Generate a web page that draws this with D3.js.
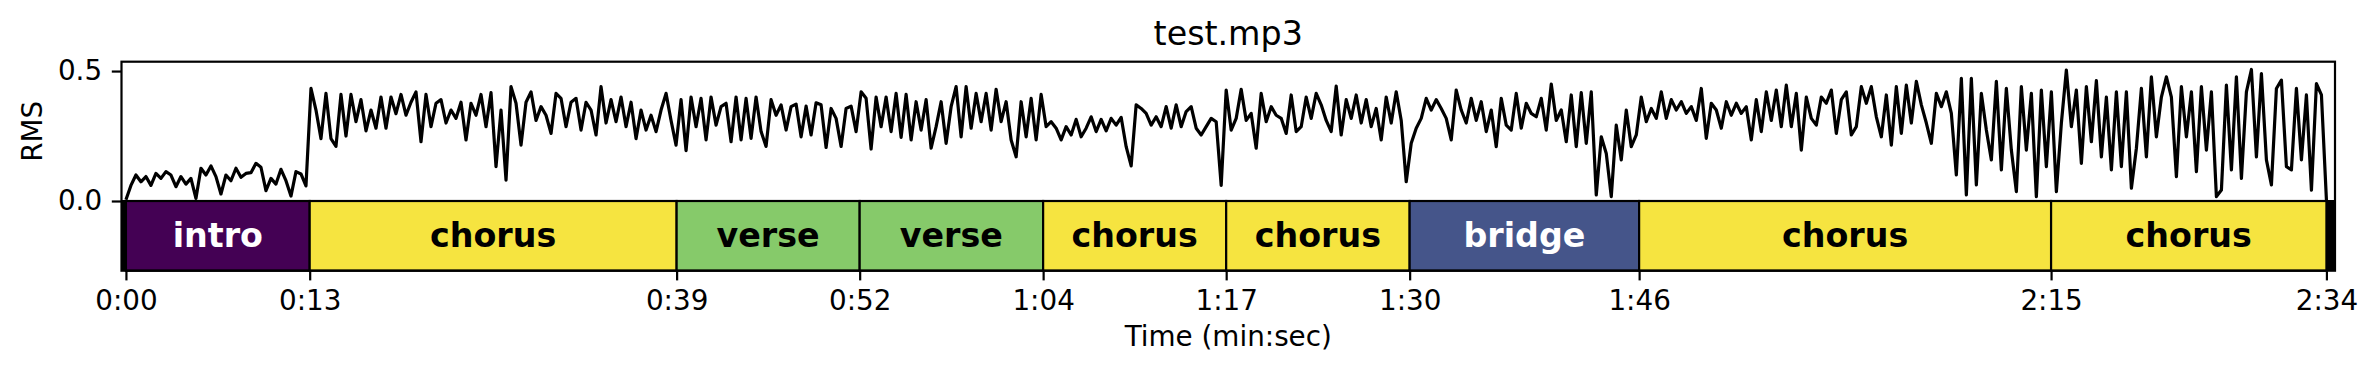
<!DOCTYPE html>
<html>
<head>
<meta charset="UTF-8">
<title>test.mp3</title>
<style>
  body { margin: 0; background: #fff; }
  svg { display: block; font-family: "DejaVu Sans", sans-serif; }
</style>
</head>
<body>
<svg></svg>
<script src="https://d3js.org/d3.v7.min.js"></script>
<script>

// RMS envelope, one value every 0.35 s (0 .. 154 s)
const hop = 0.35;
const rms = [
  0.005,0.06,0.10,0.074,0.094,0.06,0.106,0.087,0.113,0.10,
  0.055,0.094,0.065,0.087,0.01,0.126,0.10,0.135,0.094,0.027,
  0.10,0.078,0.126,0.091,0.106,0.109,0.145,0.13,0.04,0.087,
  0.065,0.122,0.078,0.019,0.113,0.104,0.058,0.433,0.35,0.24,
  0.414,0.24,0.21,0.41,0.25,0.41,0.305,0.39,0.27,
  0.35,0.28,0.40,0.28,0.40,0.336,0.41,0.33,0.38,0.42,
  0.228,0.41,0.286,0.376,0.39,0.30,0.35,0.318,0.38,0.235,
  0.376,0.33,0.41,0.286,0.417,0.132,0.35,0.08,0.44,0.376,
  0.215,0.38,0.42,0.31,0.363,0.33,0.26,0.414,0.395,0.286,
  0.38,0.395,0.273,0.38,0.35,0.254,0.44,0.30,0.39,0.305,
  0.40,0.286,0.38,0.24,0.35,0.273,
  0.33,0.267,0.35,0.414,0.31,0.215,0.39,0.194,0.40,0.286,
  0.395,0.235,0.40,0.292,0.363,0.376,0.228,0.40,0.235,0.395,
  0.241,0.40,0.267,0.21,0.39,0.33,0.37,0.273,0.363,0.373,
  0.247,0.365,0.254,0.378,0.37,0.206,0.356,0.318,0.21,0.356,
  0.365,0.267,0.42,0.395,0.20,0.40,0.286,0.40,0.267,0.414,
  0.245,0.41,0.235,0.382,0.273,0.39,
  0.203,0.286,0.382,0.222,0.363,0.44,0.247,0.44,0.28,0.414,
  0.305,0.414,0.273,0.43,0.305,0.382,0.235,0.17,0.382,0.247,
  0.395,0.235,0.41,0.286,0.305,0.28,0.235,0.286,0.254,0.314,
  0.247,0.28,0.324,0.267,0.314,0.27,0.318,0.292,0.322,0.209,
  0.135,0.37,0.356,0.337,0.292,0.324,0.286,0.363,0.28,0.37,
  0.286,0.344,0.363,0.28,0.254,0.286,
  0.318,0.305,0.06,0.427,0.273,0.318,0.43,0.31,0.337,0.203,
  0.414,0.305,0.363,0.33,0.318,0.26,0.408,0.267,0.286,0.40,
  0.318,0.414,0.37,0.31,0.267,0.442,0.254,0.39,0.318,0.408,
  0.30,0.39,0.286,0.356,0.235,0.40,0.30,0.42,0.31,0.074,
  0.222,0.28,0.318,0.395,0.35,0.39,0.356,0.318,0.235,0.427,
  0.35,0.30,0.395,0.31,0.382,0.267,
  0.35,0.209,0.395,0.292,0.273,0.414,0.28,0.376,0.337,0.324,
  0.395,0.273,0.45,0.31,0.35,0.228,0.408,0.209,0.417,0.222,
  0.42,0.023,0.247,0.183,0.017,0.292,0.158,0.35,0.209,0.254,
  0.40,0.305,0.356,0.318,0.42,0.318,0.39,0.35,0.382,0.337,
  0.363,0.31,0.433,0.241,0.376,0.35,0.28,0.382,0.33,0.376,
  0.337,0.363,0.235,0.39,0.267,0.42,
  0.31,0.427,0.286,0.446,0.286,0.414,0.196,0.40,0.318,0.292,
  0.40,0.376,0.427,0.26,0.39,0.42,0.254,0.286,0.44,0.376,
  0.44,0.324,0.247,0.408,0.215,0.44,0.26,0.446,0.30,0.46,
  0.37,0.30,0.222,0.414,0.363,0.42,0.337,0.10,0.472,0.023,
  0.472,0.062,0.414,0.273,0.158,0.46,0.12,0.433,0.196,0.036,
  0.44,0.196,0.414,0.017,0.427,0.132,
  0.42,0.036,0.30,0.504,0.286,0.427,0.145,0.44,0.228,0.463,
  0.17,0.40,0.12,0.42,0.132,0.42,0.049,0.203,0.433,0.17,
  0.478,0.247,0.40,0.478,0.40,0.094,0.44,0.247,0.42,0.113,
  0.44,0.196,0.42,0.017,0.042,0.446,0.12,0.478,0.087,0.42,
  0.506,0.17,0.49,0.158,0.062,0.433,0.465,0.132,0.12,0.433,
  0.158,0.408,0.042,0.452,0.408,0.004
];

// song segments (seconds)
const segLabels = ["intro","chorus","verse","verse","chorus","chorus","bridge","chorus","chorus"];
const segStarts = [0, 12.86, 38.54, 51.35, 64.19, 77.0, 89.84, 105.9, 134.73];
const segEnds   = [12.86, 38.54, 51.35, 64.19, 77.0, 89.84, 105.9, 134.73, 154.0];
const labelColors = {intro: "#440154", bridge: "#45558a", verse: "#86ca6a", chorus: "#f6e440"};
const labelText   = {intro: "#fff", bridge: "#fff", verse: "#000", chorus: "#000"};

const tickValues = [0, 12.86, 38.54, 51.35, 64.19, 77.0, 89.84, 105.9, 134.73, 154.0];
const tickLabels = ["0:00","0:13","0:39","0:52","1:04","1:17","1:30","1:46","2:15","2:34"];
const yTicks = [0, 0.5];

let width = 2377, height = 375;
let axLeft = 121.5, axRight = 2335, axTop = 61.7, axMid = 201, axBottom = 270.7;

let svg = d3.select("svg").attr("width", width).attr("height", height);
svg.append("rect").attr("width", width).attr("height", height).attr("fill", "#fff");

let x = d3.scaleLinear().domain([-0.31, 154.6]).range([axLeft, axRight]);
let y = d3.scaleLinear().domain([0, 0.536]).range([axMid, axTop]);

// segment band: black behind, coloured segments on top
svg.append("rect")
  .attr("x", axLeft).attr("y", axMid)
  .attr("width", axRight - axLeft).attr("height", axBottom - axMid)
  .attr("fill", "#000");

let segs = segLabels.map((l, i) => ({label: l, start: segStarts[i], end: segEnds[i]}));

svg.append("g").selectAll("rect")
  .data(segs)
  .enter().append("rect")
    .attr("x", d => x(d.start))
    .attr("y", axMid)
    .attr("width", d => x(d.end) - x(d.start))
    .attr("height", axBottom - axMid)
    .attr("fill", d => labelColors[d.label])
    .attr("stroke", "#000")
    .attr("stroke-width", 2.2);

svg.append("g").selectAll("text")
  .data(segs)
  .enter().append("text")
    .attr("x", d => (x(d.start) + x(d.end)) / 2)
    .attr("y", (axMid + axBottom) / 2)
    .attr("text-anchor", "middle")
    .attr("dominant-baseline", "central")
    .style("font-size", "33.3px")
    .style("font-weight", "bold")
    .attr("fill", d => labelText[d.label])
    .text(d => d.label);

// RMS line
let line = d3.line()
  .x((d, i) => x(i * hop))
  .y(d => y(d));

svg.append("path")
  .datum(rms)
  .attr("d", line)
  .attr("fill", "none")
  .attr("stroke", "#000")
  .attr("stroke-width", 3.2)
  .attr("stroke-linejoin", "round");

// axes
let xAxis = d3.axisBottom(x)
  .tickValues(tickValues)
  .tickFormat((d, i) => tickLabels[i])
  .tickSize(9.7).tickPadding(9.7).tickSizeOuter(0);

let gx = svg.append("g").attr("transform", "translate(0," + axBottom + ")").call(xAxis);

let yAxis = d3.axisLeft(y)
  .tickValues(yTicks)
  .tickFormat(d3.format(".1f"))
  .tickSize(9.7).tickPadding(9.7).tickSizeOuter(0);

let gy = svg.append("g").attr("transform", "translate(" + axLeft + ",0)").call(yAxis);

[gx, gy].forEach(g => {
  g.select(".domain").remove();
  g.selectAll("line").attr("stroke", "#000").attr("stroke-width", 2.2);
  g.selectAll("text")
    .attr("fill", "#000")
    .style("font-family", "DejaVu Sans")
    .style("font-size", "27.8px");
});

// frame
svg.append("rect")
  .attr("x", axLeft).attr("y", axTop)
  .attr("width", axRight - axLeft).attr("height", axBottom - axTop)
  .attr("fill", "none").attr("stroke", "#000").attr("stroke-width", 2.2);
svg.append("line")
  .attr("x1", axLeft).attr("x2", axRight).attr("y1", axMid).attr("y2", axMid)
  .attr("stroke", "#000").attr("stroke-width", 2.2);

// labels
svg.append("text")
  .attr("x", (axLeft + axRight) / 2).attr("y", 45)
  .attr("text-anchor", "middle")
  .style("font-size", "33.3px")
  .text("test.mp3");

svg.append("text")
  .attr("x", (axLeft + axRight) / 2).attr("y", 346)
  .attr("text-anchor", "middle")
  .style("font-size", "27.8px")
  .text("Time (min:sec)");

svg.append("text")
  .attr("transform", "translate(42," + ((axTop + axMid) / 2) + ") rotate(-90)")
  .attr("text-anchor", "middle")
  .style("font-size", "27.8px")
  .text("RMS");

</script>
</body>
</html>
